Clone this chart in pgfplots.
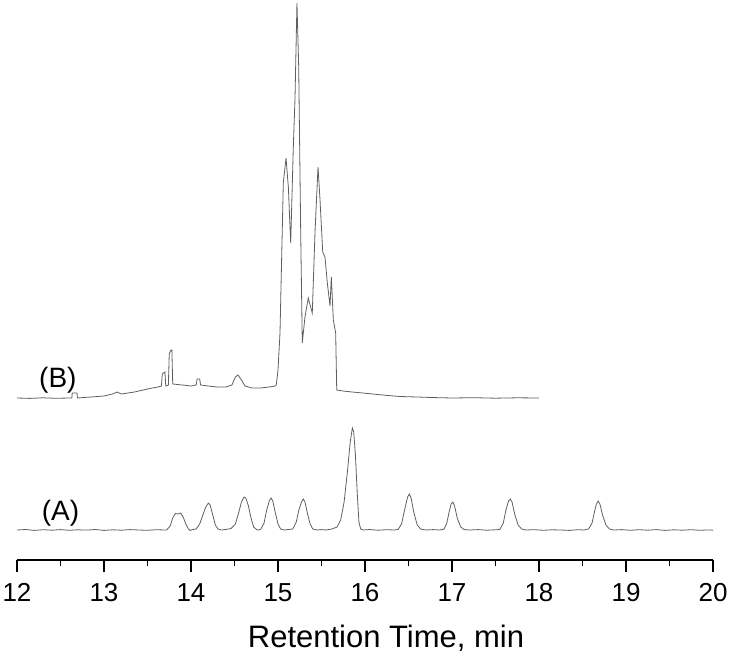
\documentclass[border=0pt]{standalone}
\usepackage{fontspec}
\setmainfont{Liberation Sans}
\usepackage{pgfplots}
\pgfplotsset{compat=1.18}
\definecolor{trace}{RGB}{95,95,95}
\begin{document}
\begin{tikzpicture}
\path[use as bounding box] (-17pt,-104pt) rectangle (727pt,560pt);
\begin{axis}[
  scale only axis,
  width=696pt, height=560pt,
  xmin=12, xmax=20, ymin=0, ymax=560,
  axis x line*=bottom, axis y line=none,
  clip=false,
  xtick={12,13,...,20},
  minor x tick num=1,
  tick align=outside,
  major tick length=12pt, minor tick length=6pt,
  every tick/.style={black, line width=1.1pt},
  axis line style={black, line width=1.3pt},
  /pgf/number format/assume math mode=true,
  xticklabel style={font=\fontsize{26}{30}\selectfont, anchor=base, yshift=-29pt},
  xlabel={Retention Time, min},
  xlabel style={font=\fontsize{31}{35}\selectfont, at={(axis description cs:0.5,0)}, anchor=base, xshift=21pt, yshift=-87pt},
]
% Trace (A)
\addplot[trace, line width=0.8pt] coordinates {
(12.00,30) (12.10,30.5) (12.20,29.6) (12.30,30.3) (12.40,29.8) (12.50,30.4) (12.60,29.7) (12.70,30.2) (12.80,29.9) (12.90,30.5)
(13.00,29.6) (13.10,30.2) (13.20,29.8) (13.30,30.4) (13.40,30.0) (13.50,29.7) (13.60,30.3) (13.70,30.0)
(13.72,30) (13.76,34) (13.79,42) (13.82,46.5) (13.85,46) (13.88,47) (13.91,43) (13.94,36) (13.97,31) (13.99,29.5) (14.02,30.5)
(14.06,31) (14.10,36) (14.14,46) (14.17,53) (14.20,57) (14.22,55) (14.25,45) (14.28,35) (14.31,31) (14.35,30) (14.40,30.5)
(14.46,31.5) (14.51,36) (14.55,48) (14.58,58) (14.61,63) (14.63,62) (14.66,54) (14.69,42) (14.72,33) (14.76,30)
(14.80,30.5) (14.84,37) (14.87,50) (14.90,59) (14.92,62) (14.94,59) (14.97,47) (15.00,36) (15.03,31) (15.07,30) (15.12,30.5)
(15.17,31) (15.21,38) (15.24,50) (15.27,58) (15.29,61) (15.31,58) (15.34,46) (15.37,36) (15.40,31) (15.45,30) (15.50,30.4) (15.55,30) (15.62,31)
(15.68,33) (15.72,40) (15.76,58) (15.80,90) (15.83,118) (15.855,132) (15.87,128) (15.89,105) (15.91,68) (15.93,38) (15.95,31) (15.98,30)
(16.05,30.5) (16.15,29.8) (16.25,30.3) (16.33,30)
(16.38,30.5) (16.42,36) (16.46,52) (16.49,63) (16.51,66) (16.53,62) (16.56,48) (16.60,35) (16.64,31) (16.70,30) (16.78,30.4) (16.86,30)
(16.91,31) (16.94,37) (16.97,49) (16.99,56) (17.01,58) (17.03,54) (17.06,42) (17.10,33) (17.14,30.5) (17.20,30) (17.30,30.4) (17.40,29.8) (17.50,30.2)
(17.55,30.5) (17.59,37) (17.62,50) (17.65,59) (17.67,61) (17.69,58) (17.72,46) (17.76,35) (17.80,31) (17.85,30) (17.95,30.3) (18.05,29.7) (18.15,30.2) (18.25,30) (18.35,29.6) (18.45,30.3) (18.52,30)
(18.57,31) (18.61,37) (18.64,49) (18.66,56) (18.68,59) (18.70,56) (18.73,45) (18.77,35) (18.81,31) (18.86,30) (18.95,30.4) (19.05,29.7) (19.15,30.3) (19.25,29.8) (19.35,30.4) (19.45,29.6) (19.55,30.2) (19.65,29.8) (19.75,30.3) (19.85,29.7) (19.95,30.1) (20.00,29.8)
};
% Trace (B)
\addplot[trace, line width=0.8pt] coordinates {
(12.00,162) (12.15,161.6) (12.30,162.2) (12.45,161.7) (12.60,162) (12.63,162) (12.635,167) (12.69,167) (12.695,162)
(12.85,163) (13.00,164) (13.10,166) (13.15,168) (13.20,166) (13.35,168) (13.50,171) (13.62,173) (13.66,174)
(13.67,186) (13.70,188) (13.71,174) (13.74,175) (13.75,206) (13.77,210) (13.78,210) (13.79,176)
(13.90,175) (14.00,174) (14.06,175) (14.07,181) (14.10,181) (14.11,175) (14.20,174) (14.30,173) (14.40,173)
(14.47,175) (14.51,183) (14.54,185) (14.58,180) (14.62,174) (14.70,172) (14.80,172) (14.90,173) (14.97,174)
(14.98,175) (15.00,190) (15.023,227) (15.061,377) (15.092,402) (15.119,373) (15.146,317) (15.176,413) (15.195,460)
(15.218,557) (15.238,493) (15.261,327) (15.279,217) (15.310,243) (15.348,262) (15.394,247) (15.425,327) (15.460,393)
(15.483,360) (15.514,308) (15.540,303) (15.567,277) (15.598,254) (15.613,283) (15.636,240) (15.663,227) (15.675,170)
(15.747,169) (15.85,168) (15.977,167) (16.2,165) (16.4,163.5) (16.6,163) (16.8,162.4) (17.0,162) (17.25,162.3) (17.5,161.8) (17.75,162.2) (18.0,162)
};
\node[font=\fontsize{28}{32}\selectfont] at (axis cs:12.50,47) {(A)};
\node[font=\fontsize{28}{32}\selectfont] at (axis cs:12.47,180) {(B)};
\end{axis}
\end{tikzpicture}
\end{document}
